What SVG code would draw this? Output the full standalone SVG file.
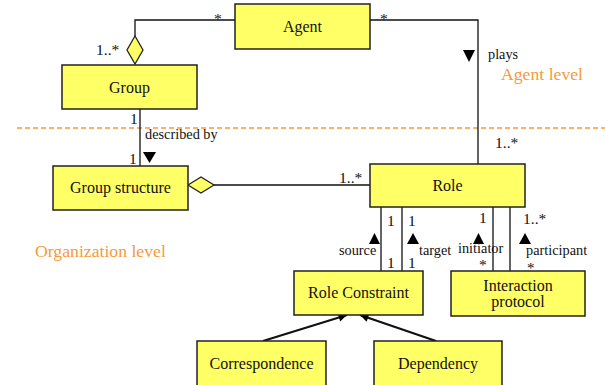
<svg xmlns="http://www.w3.org/2000/svg" width="605" height="385" viewBox="0 0 605 385">
<defs>
<style>
.box{fill:#ffff66;stroke:#222;stroke-width:1.5}
.t{font-family:"Liberation Serif","Times New Roman",serif;font-size:16px;fill:#111;text-anchor:middle}
.m{font-family:"Liberation Serif","Times New Roman",serif;font-size:15.5px;fill:#111}
.l{font-family:"Liberation Serif","Times New Roman",serif;font-size:14.3px;fill:#111}
.lv{font-family:"Liberation Serif","Times New Roman",serif;font-size:17.7px;fill:#f79a3c}
.ln{fill:none;stroke:#111;stroke-width:1.3}
.gen{fill:none;stroke:#111;stroke-width:2.2}
.dia{fill:#ffff66;stroke:#222;stroke-width:1.3}
.tri{fill:#000}
</style>
<marker id="ah" viewBox="0 0 10 10" refX="10" refY="5" markerWidth="6" markerHeight="6" markerUnits="userSpaceOnUse" orient="auto" overflow="visible">
<path d="M0,0 L10,5 L0,10 z" fill="#000" transform="scale(1.4) translate(-2.9,-1.4)"/>
</marker>
</defs>
<rect width="605" height="385" fill="#fff"/>
<line x1="17" y1="128" x2="605" y2="128" stroke="#f79a3c" stroke-width="1.5" stroke-dasharray="5,3"/>
<text class="lv" x="501" y="80">Agent level</text>
<text class="lv" x="35" y="257">Organization level</text>
<g id="connectors">
<polyline class="ln" points="235,20 135,20 135,36"/>
<path class="dia" d="M135,36 L143,50 L135,64 L127,50 z"/>
<polyline class="ln" points="370,20 478,20 478,164"/>
<line class="ln" x1="140" y1="109" x2="140" y2="166"/>
<line class="ln" x1="214" y1="185" x2="370" y2="185"/>
<path class="dia" d="M188,185 L201,177 L214,185 L201,193 z"/>
<line class="ln" x1="381" y1="207" x2="381" y2="271"/>
<line class="ln" x1="402" y1="207" x2="402" y2="271"/>
<line class="ln" x1="493" y1="207" x2="493" y2="271"/>
<line class="ln" x1="510" y1="207" x2="510" y2="271"/>
<path class="gen" d="M263,341 L347,315" marker-end="url(#ah)"/>
<path class="gen" d="M436,341 L360,315" marker-end="url(#ah)"/>
<path class="tri" d="M143,152 L156,152 L149.5,163 z"/>
<path class="tri" d="M463,50 L475,50 L469,62 z"/>
<path class="tri" d="M369,244 L380,244 L374.5,233 z"/>
<path class="tri" d="M407,244 L419,244 L413,233 z"/>
<path class="tri" d="M473,244 L484,244 L478.5,233 z"/>
<path class="tri" d="M519,244 L531,244 L525,233 z"/>
<text class="m" x="214" y="24">*</text>
<text class="m" x="96" y="55">1..*</text>
<text class="m" x="380" y="24">*</text>
<text class="l" x="488" y="59">plays</text>
<text class="m" x="495" y="148">1..*</text>
<text class="m" x="130" y="124">1</text>
<text class="l" x="145" y="139">described by</text>
<text class="m" x="129" y="164">1</text>
<text class="m" x="339" y="183">1..*</text>
<text class="m" x="387" y="226">1</text>
<text class="m" x="408" y="226">1</text>
<text class="m" x="387" y="268">1</text>
<text class="m" x="408" y="268">1</text>
<text class="l" x="339" y="255">source</text>
<text class="l" x="419" y="255">target</text>
<text class="m" x="479" y="223">1</text>
<text class="l" x="458" y="253">initiator</text>
<text class="m" x="479" y="270">*</text>
<text class="m" x="523" y="224">1..*</text>
<text class="l" x="526" y="255">participant</text>
<text class="m" x="527" y="272.5" style="font-size:15px">*</text>
</g>
<g id="agent"><rect class="box" x="235" y="4" width="135" height="45"/><text class="t" x="302.5" y="32">Agent</text></g>
<g id="group"><rect class="box" x="62" y="65" width="135" height="44"/><text class="t" x="129.5" y="93">Group</text></g>
<g id="group-structure"><rect class="box" x="53" y="166" width="135" height="44"/><text class="t" x="120.5" y="193">Group structure</text></g>
<g id="role"><rect class="box" x="370" y="164" width="155" height="43"/><text class="t" x="447.5" y="191">Role</text></g>
<g id="role-constraint"><rect class="box" x="294" y="271" width="129" height="44"/><text class="t" x="358.5" y="298">Role Constraint</text></g>
<g id="interaction-protocol"><rect class="box" x="451" y="271" width="134" height="45"/><text class="t" x="518" y="290.5">Interaction</text><text class="t" x="518" y="307">protocol</text></g>
<g id="correspondence"><rect class="box" x="197" y="341" width="129" height="50"/><text class="t" x="261.5" y="369">Correspondence</text></g>
<g id="dependency"><rect class="box" x="374" y="341" width="128" height="50"/><text class="t" x="438" y="369">Dependency</text></g>
</svg>
